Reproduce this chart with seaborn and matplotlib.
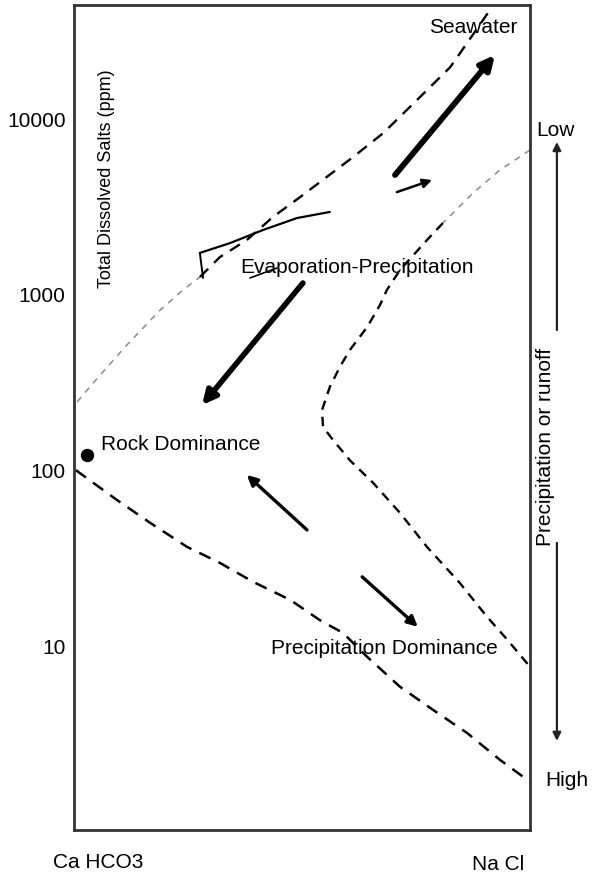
import matplotlib
matplotlib.use("Agg")
import matplotlib.pyplot as plt
import pandas as pd
import seaborn as sns

# Gibbs diagram: weight ratio (Na+ / (Na+ + Ca2+)) against total dissolved salts (ppm)
upper_ratio = [0.007, 0.042, 0.116, 0.189, 0.239, 0.276, 0.320, 0.379, 0.436,
               0.496, 0.612, 0.678, 0.752, 0.825, 0.862, 0.912]
upper_tds = [247, 316, 520, 822, 1067, 1265, 1644, 2053, 2773,
             3605, 6081, 8318, 12820, 19720, 27040, 41600]

inner_ratio = [1.0, 0.934, 0.875, 0.809, 0.774, 0.715, 0.686, 0.671, 0.643, 0.605,
               0.583, 0.561, 0.544, 0.546, 0.568, 0.605, 0.656, 0.715, 0.774,
               0.846, 0.906, 0.950, 1.0]
inner_tds = [6670, 5130, 3800, 2564, 2053, 1387, 1067, 877, 658, 487,
             390, 300, 222, 178, 150, 115, 85.5, 57.7, 37.0,
             23.1, 14.8, 11.0, 7.7]

lower_ratio = [0.004, 0.094, 0.167, 0.248, 0.320, 0.393, 0.474, 0.539, 0.590,
               0.643, 0.715, 0.787, 0.862, 0.934, 1.0]
lower_tds = [101, 68.4, 50.7, 37.0, 30.0, 23.4, 18.5, 14.2, 12.0,
             8.77, 5.93, 4.39, 3.24, 2.28, 1.71]

trend_ratio = [0.276, 0.342, 0.414, 0.489, 0.561]
trend_tds = [1734, 1972, 2339, 2738, 2965]
kink_ratio = [0.276, 0.283]
kink_tds = [1734, 1251]
stroke_ratio = [0.386, 0.445]
stroke_tds = [1250, 1423]

# arrows: tail and head positions (ratio, tds) and stroke widths
arrow_tail_ratio = [0.704, 0.708, 0.502, 0.511, 0.632]
arrow_tail_tds = [4810, 3846, 1170, 46.2, 25.0]
arrow_head_ratio = [0.923, 0.785, 0.281, 0.379, 0.754]
arrow_head_tds = [23100, 4500, 237, 94.9, 13.0]
arrow_width = [4.2, 1.8, 4.0, 2.4, 2.4]

rock_ratio = [0.0285]
rock_tds = [123]

ytick_values = [10, 100, 1000, 10000]
ytick_labels = ["10", "100", "1000", "10000"]

sns.set_style("white")
plt.rcParams["font.family"] = ["Liberation Sans", "DejaVu Sans"]
plt.rcParams["text.color"] = "black"
FS = 15

fig = plt.figure(figsize=(6.03, 8.76), dpi=100)
ax = fig.add_axes([74 / 603, 46 / 876, 456 / 603, 825 / 876])
ax.set_yscale("log")
ax.set_xlim(0, 1)
ax.set_ylim(0.91, 44500)


def curve(xs, ys, color="black", lw=1.6, dashes=(5, 3)):
    df = pd.DataFrame({"ratio": xs, "tds": ys})
    sns.lineplot(data=df, x="ratio", y="tds", sort=False, estimator=None,
                 color=color, lw=lw, ax=ax, dashes=False)
    ln = ax.lines[-1]
    ln.set_dashes(dashes)
    ln.set_solid_capstyle("butt")
    return ln


# envelope boundaries
curve(upper_ratio[:6], upper_tds[:6], color="#8a8a8a", lw=1.1, dashes=(4, 4))
curve(upper_ratio[5:], upper_tds[5:], lw=1.7, dashes=(5, 3.5))
curve(inner_ratio[:4], inner_tds[:4], color="#8a8a8a", lw=1.1, dashes=(4, 4))
curve(inner_ratio[3:], inner_tds[3:], lw=1.7, dashes=(4, 3))
curve(lower_ratio, lower_tds, lw=1.8, dashes=(5, 3.5))

# evaporation trend line
for xs, ys, w in [(trend_ratio, trend_tds, 1.6), (kink_ratio, kink_tds, 1.4),
                  (stroke_ratio, stroke_tds, 1.2)]:
    sns.lineplot(x=xs, y=ys, sort=False, estimator=None, color="black", lw=w, ax=ax)

# direction arrows
for tx, ty, hx, hy, w in zip(arrow_tail_ratio, arrow_tail_tds,
                             arrow_head_ratio, arrow_head_tds, arrow_width):
    ax.annotate("", xy=(hx, hy), xytext=(tx, ty),
                arrowprops=dict(arrowstyle="-|>", lw=w, color="black",
                                mutation_scale=8 + 3 * w, shrinkA=0, shrinkB=0))

sns.scatterplot(x=rock_ratio, y=rock_tds, s=110, color="black", ax=ax, zorder=5)

# axes styling
ax.set_yticks(ytick_values)
ax.set_yticklabels(ytick_labels)
ax.minorticks_off()
ax.set_xticks([])
ax.tick_params(axis="y", direction="in", length=9, width=2, colors="#333333",
               labelsize=FS, labelcolor="black", pad=6)
for s in ax.spines.values():
    s.set_linewidth(2)
    s.set_color("#333333")
ax.set_xlabel("")
ax.set_ylabel("")

# annotations inside the plot
ax.text(0.072, 0.79, "Total Dissolved Salts (ppm)", rotation=90, fontsize=13,
        ha="center", va="center", transform=ax.transAxes)
ax.text(0.875, 0.973, "Seawater", fontsize=FS, ha="center", va="center",
        transform=ax.transAxes)
ax.text(0.621, 0.682, "Evaporation-Precipitation", fontsize=FS, ha="center",
        va="center", transform=ax.transAxes)
ax.text(0.059, 0.467, "Rock Dominance", fontsize=FS, ha="left", va="center",
        transform=ax.transAxes)
ax.text(0.681, 0.2206, "Precipitation Dominance", fontsize=FS, ha="center",
        va="center", transform=ax.transAxes)

# outside labels
ax.text(0.053, -0.039, "Ca HCO3", fontsize=FS, ha="center", va="center",
        transform=ax.transAxes, clip_on=False)
ax.text(0.930, -0.042, "Na Cl", fontsize=FS, ha="center", va="center",
        transform=ax.transAxes, clip_on=False)
ax.text(1.055, 0.848, "Low", fontsize=FS, ha="center", va="center",
        transform=ax.transAxes, clip_on=False)
ax.text(1.081, 0.0594, "High", fontsize=FS, ha="center", va="center",
        transform=ax.transAxes, clip_on=False)
ax.text(1.033, 0.464, "Precipitation or runoff", rotation=90, fontsize=FS,
        ha="center", va="center", transform=ax.transAxes, clip_on=False)

for y0, y1 in [(0.606, 0.834), (0.348, 0.108)]:
    ax.annotate("", xy=(1.059, y1), xytext=(1.059, y0), xycoords="axes fraction",
                textcoords="axes fraction", annotation_clip=False,
                arrowprops=dict(arrowstyle="-|>", lw=1.6, color="#222222",
                                mutation_scale=12, shrinkA=0, shrinkB=0))

fig.savefig("out.png", dpi=100)
